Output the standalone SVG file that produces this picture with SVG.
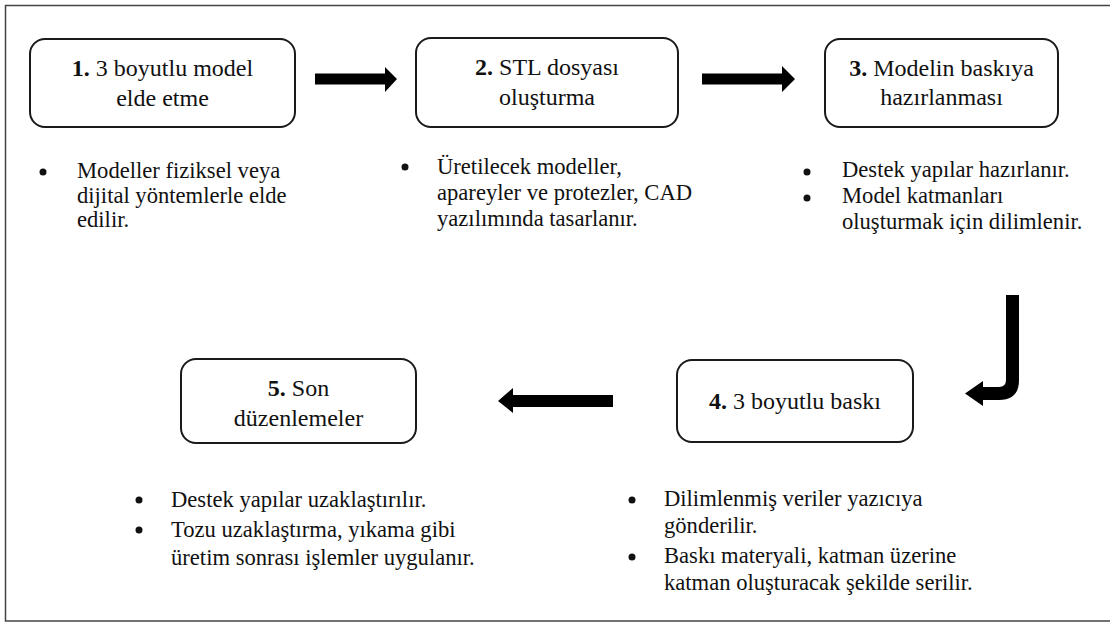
<svg xmlns="http://www.w3.org/2000/svg" width="1110" height="622" viewBox="0 0 1110 622">
<style>
.box{fill:#fff;stroke:#1a1a1a;stroke-width:2}
.bt{font-family:"Liberation Serif","Times New Roman",serif;font-size:24px;fill:#111;text-anchor:middle}
.tx{font-family:"Liberation Serif","Times New Roman",serif;font-size:22.6px;fill:#111}
.b{font-weight:bold}
.arr{fill:#000}
</style>
<rect x="0" y="0" width="1110" height="622" fill="#fff"/>
<rect x="5.5" y="5.5" width="1110" height="615.5" fill="none" stroke="#444" stroke-width="1.5"/>
<g id="connectors">
<path class="arr" d="M315 73.5 H385 V67 L397 79 L385 92 V84.5 H315 Z"/>
<path class="arr" d="M702 73.5 H782 V66 L795 79 L782 92 V84.5 H702 Z"/>
<path class="arr" d="M613 395 H513 V388 L498 401 L513 413 V407 H613 Z"/>
<path class="arr" d="M1006 295 H1019 V380 Q1019 400 999 400 H983 V406 L965 393.5 L983 381 V387 H999 Q1006 387 1006 380 Z"/>
</g>
<g id="node1">
<rect class="box" x="30" y="39" width="265" height="88" rx="15"/>
<text class="bt" x="162.5" y="76"><tspan class="b">1.</tspan> 3 boyutlu model</text>
<text class="bt" x="162.5" y="106">elde etme</text>
<circle cx="43" cy="172" r="3.5" fill="#111"/>
<text class="tx" x="77" y="178">Modeller fiziksel veya</text>
<text class="tx" x="77" y="203">dijital yöntemlerle elde</text>
<text class="tx" x="77" y="227">edilir.</text>
</g>
<g id="node2">
<rect class="box" x="416" y="38" width="262" height="89" rx="15"/>
<text class="bt" x="547" y="75"><tspan class="b">2.</tspan> STL dosyası</text>
<text class="bt" x="547" y="105">oluşturma</text>
<circle cx="405" cy="167" r="3.5" fill="#111"/>
<text class="tx" x="437" y="174">Üretilecek modeller,</text>
<text class="tx" x="437" y="200">apareyler ve protezler, CAD</text>
<text class="tx" x="437" y="226">yazılımında tasarlanır.</text>
</g>
<g id="node3">
<rect class="box" x="825" y="39" width="233" height="88" rx="15"/>
<text class="bt" x="941.5" y="76"><tspan class="b">3.</tspan> Modelin baskıya</text>
<text class="bt" x="941.5" y="105">hazırlanması</text>
<circle cx="807" cy="172" r="3.5" fill="#111"/>
<circle cx="807" cy="198" r="3.5" fill="#111"/>
<text class="tx" x="842" y="177">Destek yapılar hazırlanır.</text>
<text class="tx" x="842" y="203">Model katmanları</text>
<text class="tx" x="842" y="229">oluşturmak için dilimlenir.</text>
</g>
<g id="node4">
<rect class="box" x="677" y="360" width="236" height="82" rx="15"/>
<text class="bt" x="795" y="409"><tspan class="b">4.</tspan> 3 boyutlu baskı</text>
<circle cx="632" cy="500" r="3.5" fill="#111"/>
<circle cx="632" cy="557" r="3.5" fill="#111"/>
<text class="tx" x="664" y="506">Dilimlenmiş veriler yazıcıya</text>
<text class="tx" x="664" y="533">gönderilir.</text>
<text class="tx" x="664" y="563">Baskı materyali, katman üzerine</text>
<text class="tx" x="664" y="590">katman oluşturacak şekilde serilir.</text>
</g>
<g id="node5">
<rect class="box" x="181" y="359" width="235" height="84" rx="15"/>
<text class="bt" x="298.5" y="396"><tspan class="b">5.</tspan> Son</text>
<text class="bt" x="298.5" y="426">düzenlemeler</text>
<circle cx="139" cy="500" r="3.5" fill="#111"/>
<circle cx="139" cy="530" r="3.5" fill="#111"/>
<text class="tx" x="171" y="507">Destek yapılar uzaklaştırılır.</text>
<text class="tx" x="171" y="537">Tozu uzaklaştırma, yıkama gibi</text>
<text class="tx" x="171" y="565">üretim sonrası işlemler uygulanır.</text>
</g>
</svg>
